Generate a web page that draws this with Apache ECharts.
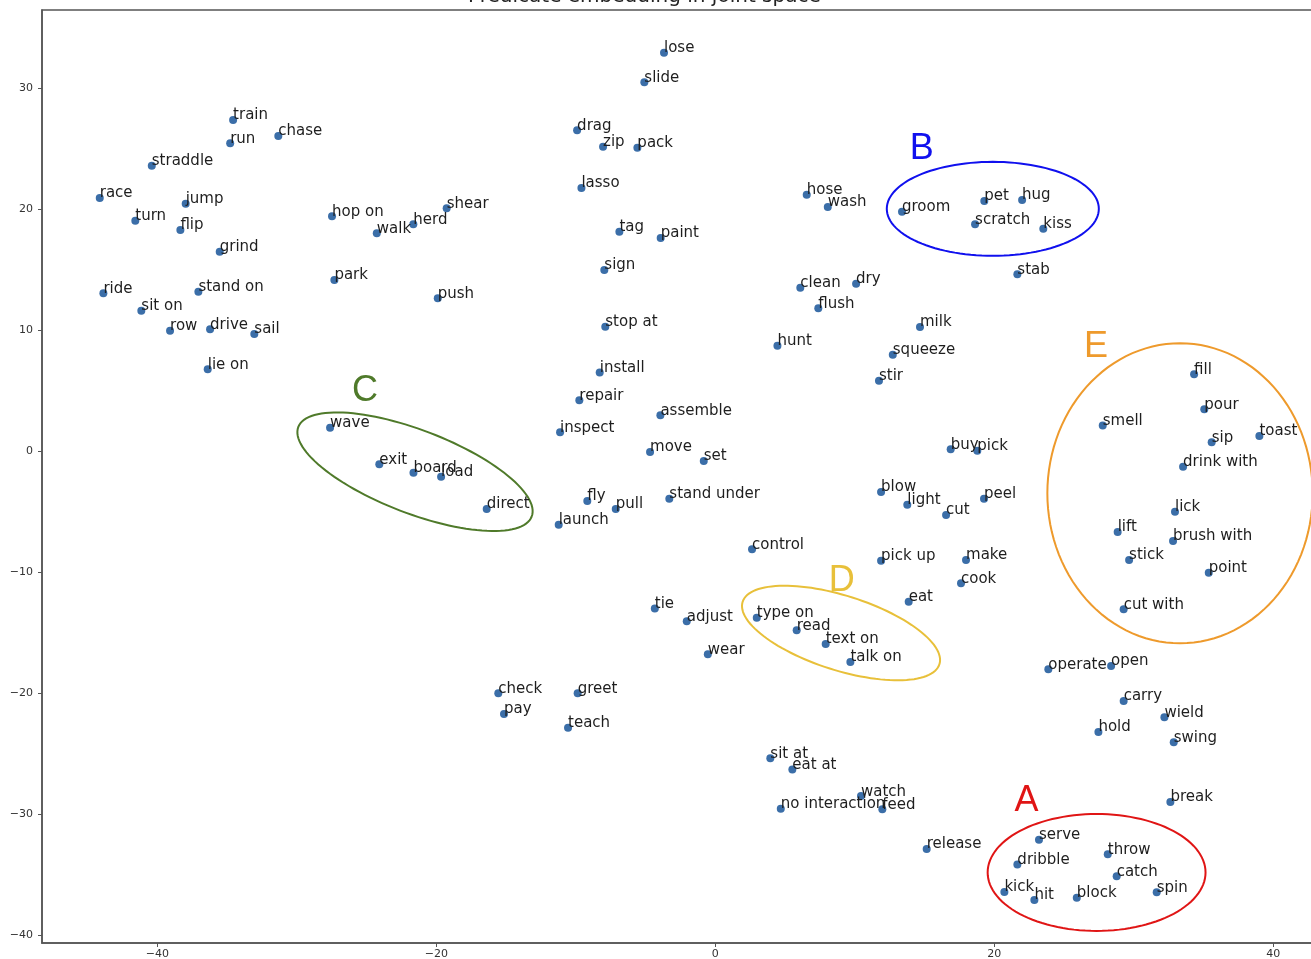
<!DOCTYPE html>
<html>
<head>
<meta charset="utf-8">
<script src="https://cdn.jsdelivr.net/npm/echarts@6/dist/echarts.min.js"></script>
<style>
html,body{margin:0;padding:0;background:#fff;}
#c{width:1311px;height:959px;}
</style>
</head>
<body>
<div id="c"></div>
<script>
// ---- data ----
const names = [
  'train','run','chase','straddle','race','jump','turn','flip','grind','hop on','walk','herd','shear','park','ride','stand on','sit on','push','row','drive','sail','lie on',
  'wave','exit','board','load','direct',
  'lose','slide','drag','zip','pack','lasso','tag','paint','sign','stop at','install','repair','assemble','inspect','move','set','fly','pull','stand under','launch','control','tie','adjust','wear','check','pay','greet','teach','sit at','eat at','no interaction','watch','feed','release',
  'hose','wash','groom','pet','hug','scratch','kiss','stab','clean','dry','flush','milk','hunt','squeeze','stir',
  'buy','pick','blow','light','cut','peel','pick up','make','cook','eat','type on','read','text on','talk on',
  'fill','pour','smell','toast','sip','drink with','lick','lift','brush with','stick','point','cut with',
  'operate','open','carry','wield','hold','swing','break','serve','dribble','throw','catch','kick','hit','block','spin'
];
const xs = [
  -34.57,-34.78,-31.33,-40.4,-44.13,-37.97,-41.58,-38.35,-35.53,-27.48,-24.27,-21.65,-19.26,-27.31,-43.87,-37.06,-41.15,-19.9,-39.09,-36.22,-33.05,-36.39,
  -27.62,-24.09,-21.64,-19.66,-16.39,
  -3.68,-5.09,-9.91,-8.05,-5.59,-9.6,-6.88,-3.92,-7.96,-7.89,-8.29,-9.75,-3.94,-11.13,-4.68,-0.83,-9.18,-7.14,-3.3,-11.23,2.63,-4.34,-2.05,-0.54,-15.56,-15.15,-9.87,-10.56,3.94,5.52,4.69,10.44,11.97,15.15,
  6.55,8.06,13.38,19.28,21.99,18.62,23.51,21.65,6.09,10.09,7.38,14.67,4.45,12.72,11.73,
  16.87,18.78,11.88,13.76,16.54,19.26,11.88,17.97,17.61,13.86,2.97,5.83,7.91,9.68,
  34.32,35.05,27.77,39.0,35.58,33.53,32.95,28.84,32.81,29.66,35.37,29.27,
  23.87,28.37,29.27,32.19,27.46,32.86,32.62,23.2,21.65,28.13,28.77,20.72,22.87,25.91,31.64
];
const ys = [
  27.38,25.45,26.06,23.6,20.93,20.46,19.06,18.29,16.5,19.42,18.02,18.76,20.08,14.16,13.06,13.19,11.62,12.64,9.97,10.08,9.69,6.78,
  1.95,-1.08,-1.77,-2.1,-4.77,
  32.94,30.5,26.53,25.17,25.09,21.76,18.15,17.63,14.98,10.3,6.5,4.21,2.97,1.57,-0.06,-0.8,-4.11,-4.77,-3.92,-6.07,-8.1,-13.0,-14.05,-16.78,-20.0,-21.71,-20.0,-22.84,-25.37,-26.31,-29.54,-28.5,-29.59,-32.87,
  21.21,20.19,19.8,20.69,20.77,18.76,18.4,14.63,13.52,13.85,11.82,10.27,8.73,7.98,5.83,
  0.17,0.05,-3.36,-4.41,-5.26,-3.92,-9.04,-8.98,-10.91,-12.43,-13.75,-14.79,-15.93,-17.41,
  6.36,3.47,2.12,1.26,0.74,-1.27,-4.99,-6.67,-7.41,-8.98,-10.03,-13.06,
  -18.02,-17.74,-20.64,-21.98,-23.2,-24.05,-28.98,-32.1,-34.16,-33.31,-35.12,-36.42,-37.08,-36.89,-36.45
];
// cluster annotations (data units): letter, centre, semi-axes, tilt, letter position
const clusterLetters = ['A','B','C','D','E'];
const clusterCx = [27.33, 19.89, -21.53, 9.01, 33.31];
const clusterCy = [-34.81, 20.04, -1.69, -15.02, -3.47];
const clusterRx = [7.81, 7.6, 8.96, 7.4, 9.51];
const clusterRy = [4.83, 3.88, 3.44, 3.08, 12.4];
const clusterTilt = [0, 0, 21, 17.6, 0];
const letterX = [22.31, 14.8, -25.11, 9.06, 27.28];
const letterY = [-28.94, 25.0, 5.0, -10.7, 8.64];
const xTicks = [-40, -20, 0, 20, 40];
const yTicks = [-40, -30, -20, -10, 0, 10, 20, 30];

// ---- styles ----
const clusterColors = ['#e01515', '#1010ee', '#4f7a2a', '#e8c03a', '#ee9a2c'];

const points = names.map((n, i) => [xs[i], ys[i], n]);
const clusters = clusterLetters.map((l, i) => [clusterCx[i], clusterCy[i], clusterRx[i], clusterRy[i], clusterTilt[i], letterX[i], letterY[i], i]);

const fmt = v => String(v).replace('-', '\u2212');
const axisCommon = {
  type: 'value',
  splitLine: { show: false },
  axisLine: { show: true, onZero: false, lineStyle: { color: '#555', width: 1.5 } },
  axisTick: { show: true, length: 4, lineStyle: { color: '#555' } },
  axisLabel: { color: '#333', fontSize: 11, fontFamily: 'DejaVu Sans', formatter: fmt }
};

const chart = echarts.init(document.getElementById('c'), null, { renderer: 'canvas' });
chart.setOption({
  animation: false,
  title: {
    text: 'Predicate embedding in joint space',
    left: 468, top: -13, padding: 0, z: 10,
    textStyle: { fontSize: 20, fontWeight: 'normal', color: '#222', fontFamily: 'DejaVu Sans' }
  },
  grid: {
    left: 42, top: 10, width: 1275, height: 933, containLabel: false, outerBoundsMode: 'none',
    show: true, borderColor: '#555', borderWidth: 1.5, backgroundColor: 'transparent'
  },
  xAxis: Object.assign({}, axisCommon, {
    min: -48.27, max: 43.13,
    axisTick: Object.assign({}, axisCommon.axisTick, { customValues: xTicks }),
    axisLabel: Object.assign({}, axisCommon.axisLabel, { customValues: xTicks, margin: 6 })
  }),
  yAxis: Object.assign({}, axisCommon, {
    min: -40.64, max: 36.47,
    axisTick: Object.assign({}, axisCommon.axisTick, { customValues: yTicks }),
    axisLabel: Object.assign({}, axisCommon.axisLabel, { customValues: yTicks, margin: 9 })
  }),
  series: [
    {
      type: 'scatter',
      data: points,
      symbolSize: 8,
      itemStyle: { color: '#3b6ea8', opacity: 1 },
      label: {
        show: true,
        formatter: p => p.data[2],
        position: [4, 7],
        align: 'left',
        verticalAlign: 'bottom',
        fontSize: 15,
        lineHeight: 15,
        fontFamily: 'DejaVu Sans',
        color: '#1e1e1e'
      },
      emphasis: { disabled: true },
      z: 3
    },
    {
      type: 'custom',
      data: clusters,
      clip: false,
      z: 2,
      renderItem: function (params, api) {
        const c = api.coord([api.value(0), api.value(1)]);
        const s = api.size([api.value(2), api.value(3)]);
        const th = api.value(4) * Math.PI / 180;
        const idx = api.value(7);
        const pts = [];
        for (let k = 0; k <= 120; k++) {
          const t = k / 120 * Math.PI * 2;
          const lx = s[0] * Math.cos(t), ly = s[1] * Math.sin(t);
          pts.push([c[0] + lx * Math.cos(th) - ly * Math.sin(th), c[1] + lx * Math.sin(th) + ly * Math.cos(th)]);
        }
        const lp = api.coord([api.value(5), api.value(6)]);
        return {
          type: 'group',
          children: [
            { type: 'polyline', shape: { points: pts }, style: { stroke: clusterColors[idx], lineWidth: 2, fill: null } },
            { type: 'text', x: lp[0], y: lp[1], style: { text: clusterLetters[idx], fill: clusterColors[idx], fontSize: 36, fontFamily: 'Liberation Sans', align: 'center', verticalAlign: 'middle' } }
          ]
        };
      }
    }
  ]
});
</script>
</body>
</html>
